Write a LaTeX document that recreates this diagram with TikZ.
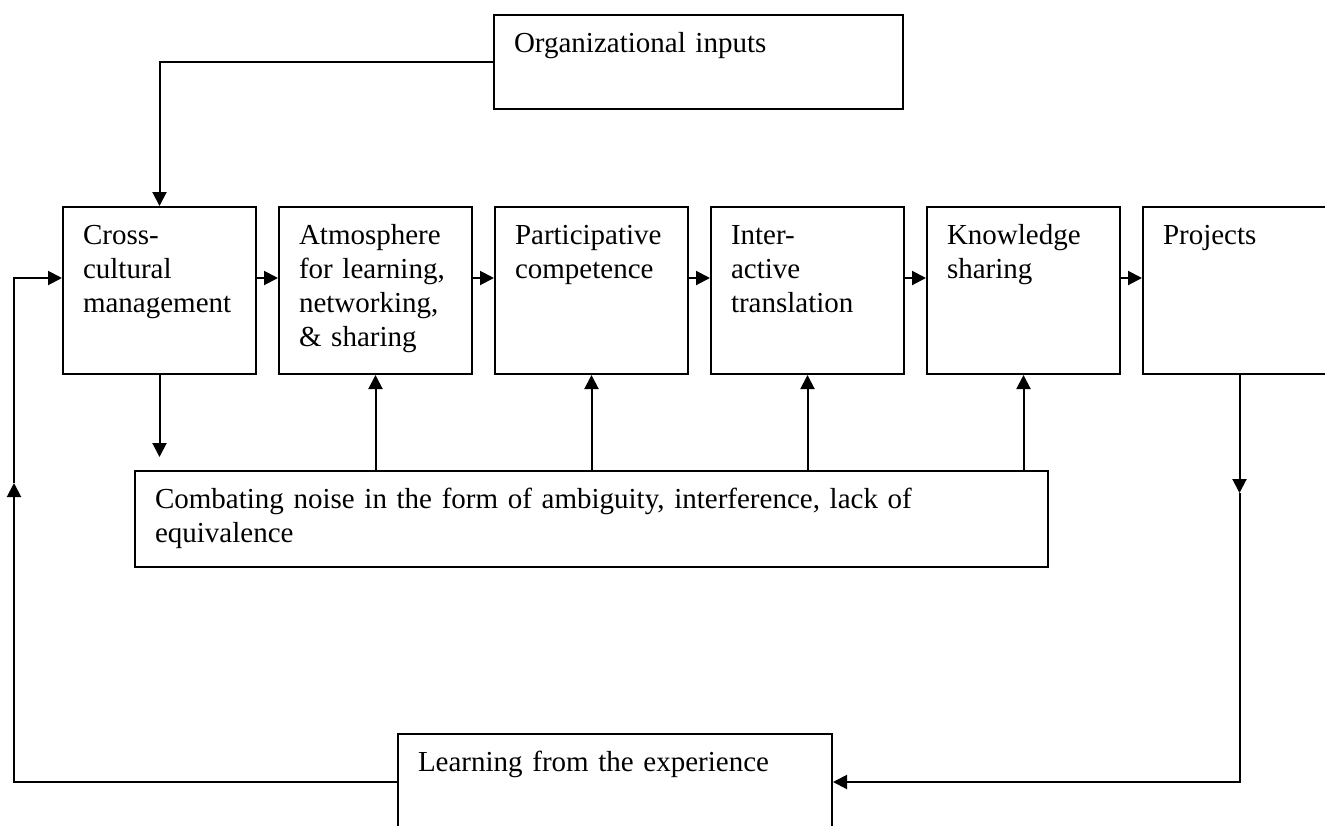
\documentclass[tikz,border=0pt]{standalone}
\usepackage{fontspec}
\setmainfont{Liberation Serif}
\usetikzlibrary{arrows.meta}
\usetikzlibrary{positioning}
\tikzset{
  stepbox/.style = {draw, line width=2pt, anchor=north west, align=left,
    inner xsep=20pt, inner ysep=10pt, text width=153pt,
    text height=27pt, text depth=120pt, font=\fontsize{29}{34}\selectfont},
  flow/.style = {line width=2pt, ->}
}

\begin{document}
\begin{tikzpicture}[x=1pt,y=-1pt,>={Triangle[length=14pt,width=14pt]}]
\useasboundingbox (0,0) rectangle (1325,825);

% top input
\node[stepbox, text width=369pt, text depth=47pt] (org) at (493,14) {Organizational inputs};

% main row
\node[stepbox] (cross) at (62,206) {Cross-\\cultural\\management};
\node[stepbox, right=21pt of cross] (atmo) {Atmosphere\\for learning,\\networking,\\\& sharing};
\node[stepbox, right=21pt of atmo] (part) {Participative\\competence};
\node[stepbox, right=21pt of part] (inter) {Inter-\\active\\translation};
\node[stepbox, right=21pt of inter] (know) {Knowledge\\sharing};
\node[stepbox, right=21pt of know] (proj) {Projects};

% noise and feedback
\node[stepbox, text width=873pt, text depth=49pt] (noise) at (134,470)
  {Combating noise in the form of ambiguity, interference, lack of\\equivalence};
\node[stepbox, text width=394pt, text depth=63pt] (learn) at (397,733) {Learning from the experience};

\coordinate (rowarrow) at (0,278);
\coordinate (loopy) at (0,782);

\draw[flow] (org.west) -| (cross.north);
\foreach \a/\b in {cross/atmo, atmo/part, part/inter, inter/know, know/proj}
  \draw[flow] (\a.east |- rowarrow) -- (\b.west |- rowarrow);

\draw[flow, shorten >=13pt] (cross.south) -- (cross.south |- noise.north);
\foreach \b in {atmo, part, inter, know}
  \draw[flow] (noise.north -| \b.south) -- (\b.south);

\coordinate (projmid) at (proj.south |- 0,493);
\draw[flow] (proj.south) -- (projmid);
\draw[flow] (projmid) |- (learn.east |- loopy);

\coordinate (leftmid) at (14,483);
\draw[flow] (learn.west |- loopy) -| (leftmid);
\draw[flow] (leftmid) |- (cross.west |- rowarrow);
\end{tikzpicture}
\end{document}
